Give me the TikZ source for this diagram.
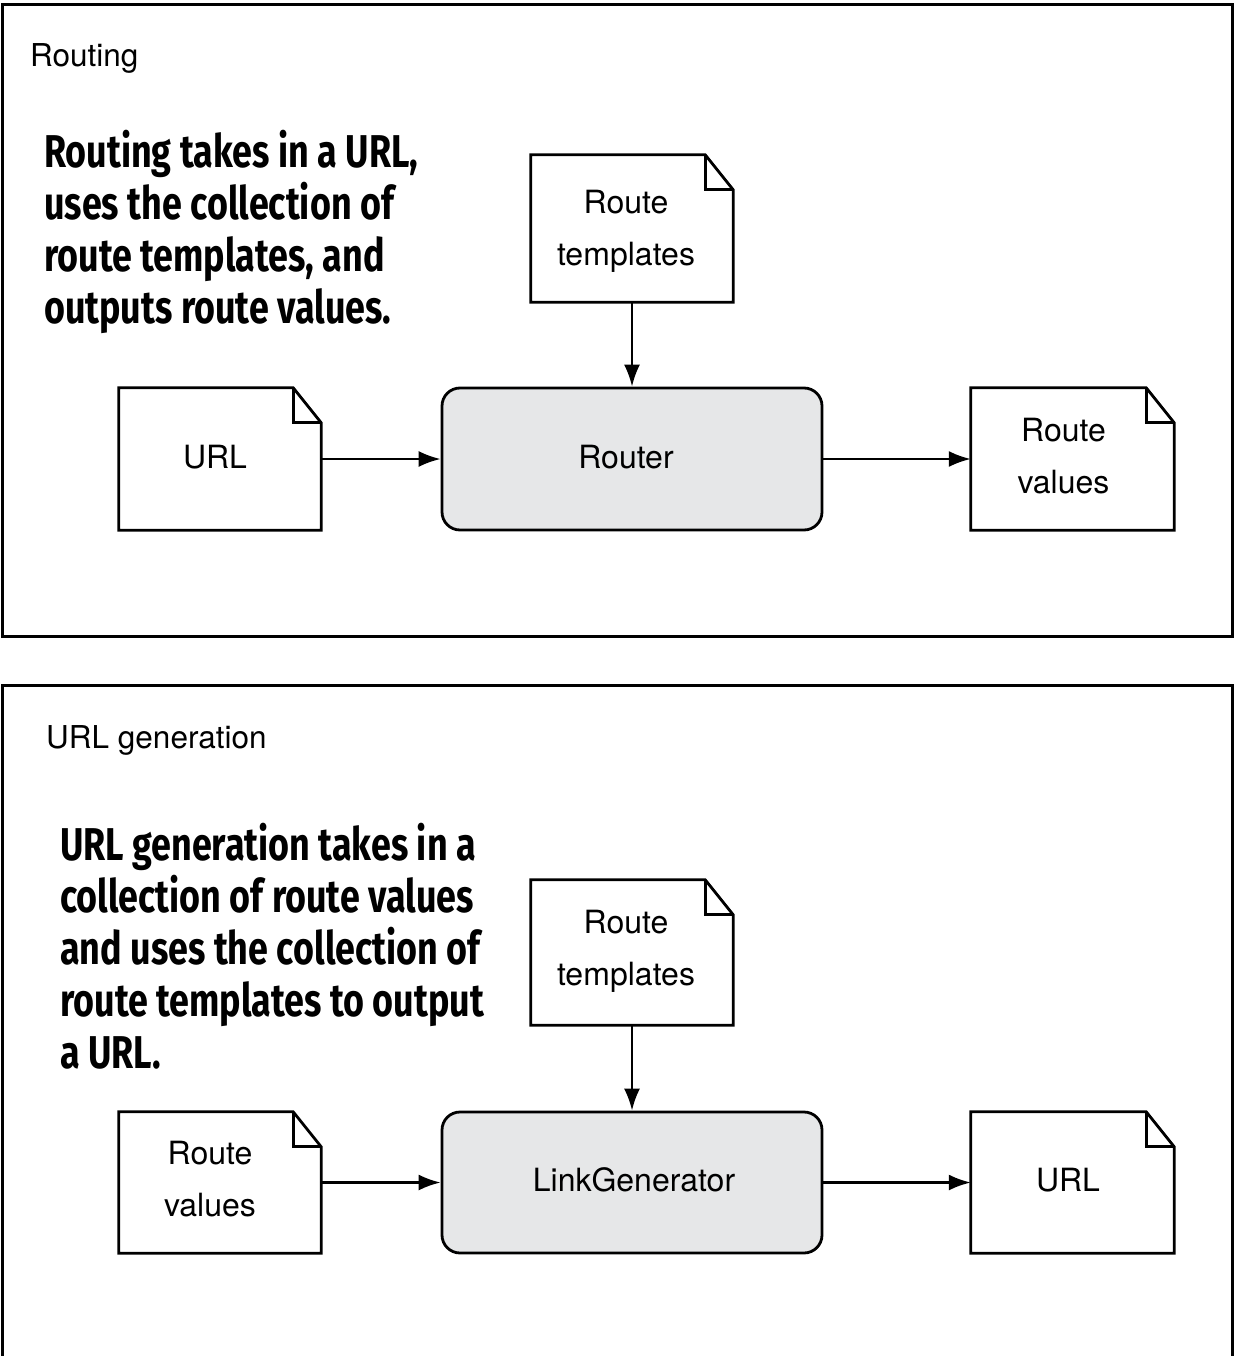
\documentclass[tikz,border=0pt]{standalone}
\usepackage{fontspec}
\setmainfont{TeX Gyre Heros}
\newfontfamily\callout[FakeStretch=0.78]{Fira Sans}
\usetikzlibrary{arrows.meta}
\definecolor{boxgray}{HTML}{E6E7E8}
\tikzset{
  panel/.style={draw=black, line width=3pt},
  heading/.style={anchor=base west, inner sep=0pt, font=\fontsize{31.5}{36}\selectfont},
  callouttext/.style={anchor=base west, inner sep=0pt, align=left,
     font=\callout\bfseries\fontsize{46}{52}\selectfont},
  docframe/.style={rectangle, inner sep=0pt},
  doctext/.style={inner sep=0pt, align=center, font=\fontsize{32}{52}\selectfont},
  docline/.style={draw=black, line width=2.8pt, line join=miter},
  procbox/.style={rectangle, rounded corners=18pt, draw=black, line width=2.8pt,
     fill=boxgray, inner sep=0pt},
  flow/.style={draw=black, line width=2.4pt, -{Latex[length=22pt,width=16pt]}},
}
\newcommand{\docoutline}[1]{%
  \draw[docline] (#1.north west) -- ([xshift=-28pt]#1.north east)
     -- ([yshift=-35pt]#1.north east) -- (#1.south east) -- (#1.south west) -- cycle;
  \draw[docline] ([xshift=-28pt]#1.north east) -- ([xshift=-28pt,yshift=-35pt]#1.north east)
     -- ([yshift=-35pt]#1.north east);
}
\begin{document}
\begin{tikzpicture}[x=1pt,y=-1pt]
\useasboundingbox (0,0) rectangle (1234,1356);
\fill[white] (0,0) rectangle (1234,1356);

% ---------- top panel ----------
\draw[panel] (2,5) rectangle (1232,636);
\node[heading] (h1) at (30,67) {Routing};
\node[callouttext] (c1) at (44,323) {Routing takes in a URL,\\uses the collection of\\route templates, and\\outputs route values.};

\node[docframe, minimum width=202pt, minimum height=147pt] (tmpl1) at (632,228.5) {};
\node[docframe, minimum width=202pt, minimum height=142pt] (url1) at (220,459) {};
\node[procbox, minimum width=380pt, minimum height=142pt] (router) at (632,459) {};
\node[docframe, minimum width=203pt, minimum height=142pt] (rv1) at (1072.5,459) {};
\docoutline{tmpl1}
\docoutline{url1}
\docoutline{rv1}
\node[doctext] (tmpl1t) at ([shift={(-6,3)}]tmpl1.center) {Route\\templates};
\node[doctext] (url1t) at ([shift={(-5,-2)}]url1.center) {URL};
\node[doctext] (routert) at ([shift={(-6,-2)}]router.center) {Router};
\node[doctext] (rv1t) at ([shift={(-9,-2.5)}]rv1.center) {Route\\values};
\draw[flow] (tmpl1.south) -- (router.north);
\draw[flow] (url1.east) -- (router.west);
\draw[flow] (router.east) -- (rv1.west);

% ---------- bottom panel ----------
\draw[panel] (2,1362) -- (2,685) -- (1232,685) -- (1232,1362);
\node[heading] (h2) at (46,748) {URL generation};
\node[callouttext] (c2) at (60,1068) {URL generation takes in a\\collection of route values\\and uses the collection of\\route templates to output\\a URL.};

\node[docframe, minimum width=202pt, minimum height=145pt] (tmpl2) at (632,952.5) {};
\node[docframe, minimum width=202pt, minimum height=141pt] (rv2) at (220,1182.5) {};
\node[procbox, minimum width=380pt, minimum height=141pt] (linkgen) at (632,1182.5) {};
\node[docframe, minimum width=203pt, minimum height=141pt] (url2) at (1072.5,1182.5) {};
\docoutline{tmpl2}
\docoutline{rv2}
\docoutline{url2}
\node[doctext] (tmpl2t) at ([shift={(-6,-1.5)}]tmpl2.center) {Route\\templates};
\node[doctext] (rv2t) at ([shift={(-10,-3)}]rv2.center) {Route\\values};
\node[doctext] (linkgent) at ([shift={(2,-2.5)}]linkgen.center) {LinkGenerator};
\node[doctext] (url2t) at ([shift={(-4.5,-2.5)}]url2.center) {URL};
\draw[flow] (tmpl2.south) -- (linkgen.north);
\draw[flow] (rv2.east) -- (linkgen.west);
\draw[flow] (linkgen.east) -- (url2.west);
\end{tikzpicture}
\end{document}
